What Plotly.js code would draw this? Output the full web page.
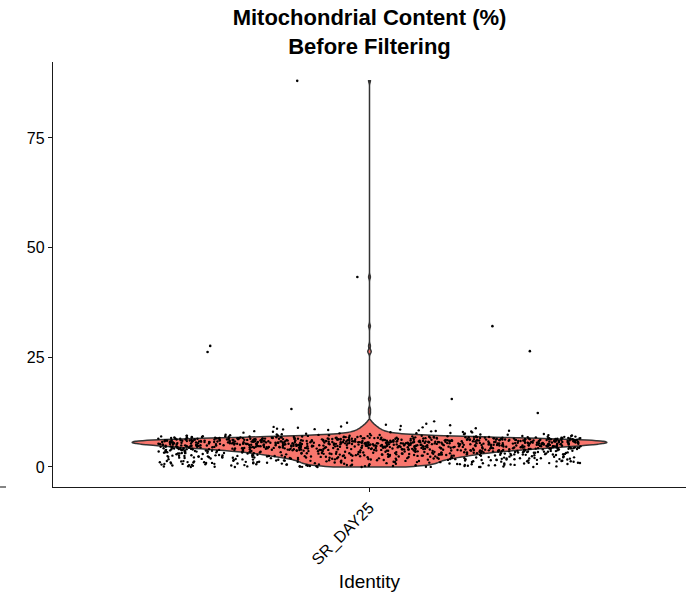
<!DOCTYPE html>
<html>
<head>
<meta charset="utf-8">
<script src="https://cdn.plot.ly/plotly-3.0.1.min.js"></script>
<style>html,body{margin:0;padding:0;background:#fff;}#chart{width:687px;height:594px;}</style>
</head>
<body>
<div id="chart"></div>
<script>
// Identity (single group)
var identities = ['SR_DAY25'];

// percent.mt of the cells in the main body
var bulkValues = [
0,0,0,0,0,0.01,0.01,0.02,0.03,0.05,0.07,0.08,
0.1,0.11,0.13,0.14,0.16,0.17,0.19,0.2,0.21,0.23,0.24,0.26,0.27,0.29,
0.3,0.32,0.33,0.35,0.36,0.38,0.39,0.4,0.42,0.43,0.45,0.46,0.48,0.49,
0.5,0.51,0.53,0.54,0.56,0.57,0.59,0.6,0.61,0.62,0.64,0.65,0.67,0.68,0.69,
0.7,0.71,0.72,0.74,0.75,0.77,0.78,0.79,0.8,0.81,0.82,0.84,0.85,0.87,0.88,0.89,
0.9,0.92,0.93,0.95,0.96,0.98,0.99,
1.0,1.01,1.02,1.04,1.05,1.07,1.08,1.09,1.1,1.11,1.12,1.14,1.15,1.17,1.18,1.19,
1.2,1.21,1.22,1.24,1.25,1.27,1.28,1.29,1.3,1.31,1.32,1.34,1.35,1.37,1.38,1.39,
1.4,1.41,1.42,1.44,1.45,1.47,1.48,1.49,1.5,1.51,1.52,1.54,1.55,1.57,1.58,1.59,
1.6,1.61,1.62,1.63,1.64,1.66,1.67,1.68,1.69,1.7,1.71,1.72,1.73,1.74,1.76,1.77,1.78,1.79,
1.8,1.81,1.82,1.83,1.84,1.86,1.87,1.88,1.89,1.9,1.91,1.92,1.93,1.94,1.96,1.97,1.98,1.99,
2.0,2.01,2.02,2.03,2.04,2.05,2.06,2.07,2.08,2.09,2.1,2.11,2.12,2.13,2.14,2.15,2.16,2.17,2.18,2.19,
2.2,2.21,2.22,2.23,2.24,2.25,2.26,2.27,2.28,2.29,
2.3,2.31,2.32,2.33,2.34,2.35,2.35,2.36,2.37,2.38,2.39,
2.4,2.41,2.42,2.43,2.44,2.45,2.46,2.46,2.47,2.48,2.49,
2.5,2.51,2.52,2.53,2.53,2.54,2.55,2.56,2.57,2.58,2.58,2.59,
2.6,2.61,2.62,2.63,2.63,2.64,2.65,2.66,2.67,2.68,2.68,2.69,
2.7,2.71,2.72,2.73,2.73,2.74,2.75,2.76,2.77,2.78,2.78,2.79,
2.8,2.81,2.82,2.83,2.83,2.84,2.85,2.86,2.87,2.88,2.88,2.89,
2.9,2.91,2.92,2.93,2.93,2.94,2.95,2.96,2.97,2.98,2.98,2.99,
3.0,3.01,3.02,3.03,3.03,3.04,3.05,3.06,3.07,3.08,3.08,3.09,
3.1,3.11,3.11,3.12,3.13,3.14,3.15,3.15,3.16,3.17,3.18,3.19,3.19,
3.2,3.2,3.21,3.22,3.23,3.23,3.24,3.25,3.26,3.26,3.27,3.28,3.29,3.29,
3.3,3.3,3.31,3.32,3.33,3.33,3.34,3.35,3.36,3.36,3.37,3.38,3.39,3.39,
3.4,3.4,3.41,3.42,3.42,3.43,3.44,3.45,3.45,3.46,3.47,3.47,3.48,3.49,3.49,
3.5,3.5,3.51,3.52,3.52,3.53,3.54,3.55,3.55,3.56,3.57,3.57,3.58,3.59,3.59,
3.6,3.6,3.61,3.62,3.62,3.63,3.64,3.64,3.65,3.66,3.66,3.67,3.68,3.68,3.69,3.69,
3.7,3.7,3.71,3.72,3.72,3.73,3.74,3.74,3.75,3.76,3.76,3.77,3.78,3.78,3.79,3.79,
3.8,3.8,3.81,3.81,3.82,3.83,3.83,3.84,3.85,3.85,3.86,3.87,3.87,3.88,3.88,3.89,3.89,
3.9,3.9,3.91,3.91,3.92,3.92,3.93,3.94,3.94,3.95,3.95,3.96,3.97,3.97,3.98,3.98,3.99,3.99,
4.0,4.0,4.01,4.01,4.02,4.02,4.03,4.04,4.04,4.05,4.05,4.06,4.07,4.07,4.08,4.08,4.09,4.09,
4.1,4.1,4.11,4.11,4.12,4.12,4.13,4.13,4.14,4.15,4.15,4.16,4.16,4.17,4.17,4.18,4.18,4.19,4.19,
4.2,4.2,4.21,4.21,4.22,4.22,4.23,4.23,4.24,4.24,4.25,4.25,4.26,4.26,4.27,4.27,4.28,4.28,4.29,4.29,
4.3,4.3,4.31,4.31,4.32,4.32,4.33,4.33,4.34,4.34,4.35,4.35,4.35,4.36,4.36,4.37,4.37,4.38,4.38,4.39,4.39,
4.4,4.4,4.41,4.41,4.42,4.42,4.43,4.43,4.44,4.44,4.45,4.45,4.45,4.46,4.46,4.47,4.47,4.48,4.48,4.48,4.49,4.49,
4.5,4.5,4.51,4.51,4.52,4.52,4.53,4.53,4.53,4.54,4.54,4.55,4.55,4.56,4.56,4.57,4.57,4.57,4.58,4.58,4.59,4.59,
4.6,4.6,4.61,4.61,4.62,4.62,4.62,4.63,4.63,4.64,4.64,4.65,4.65,4.65,4.66,4.66,4.67,4.67,4.68,4.68,4.68,4.69,4.69,
4.7,4.7,4.71,4.71,4.71,4.72,4.72,4.73,4.73,4.74,4.74,4.74,4.75,4.75,4.76,4.76,4.76,4.77,4.77,4.78,4.78,4.78,4.79,4.79,
4.8,4.8,4.81,4.81,4.81,4.82,4.82,4.83,4.83,4.84,4.84,4.84,4.85,4.85,4.86,4.86,4.86,4.87,4.87,4.88,4.88,4.88,4.89,4.89,
4.9,4.9,4.9,4.91,4.91,4.92,4.92,4.92,4.93,4.93,4.94,4.94,4.94,4.95,4.95,4.96,4.96,4.96,4.97,4.97,4.98,4.98,4.98,4.99,4.99,
5.0,5.0,5.0,5.01,5.01,5.02,5.02,5.02,5.03,5.03,5.04,5.04,5.04,5.05,5.05,5.05,5.06,5.06,5.07,5.07,5.07,5.08,5.08,5.09,5.09,5.09,
5.1,5.1,5.1,5.11,5.11,5.12,5.12,5.12,5.13,5.13,5.14,5.14,5.14,5.15,5.15,5.15,5.16,5.16,5.17,5.17,5.17,5.18,5.18,5.19,5.19,5.19,
5.2,5.2,5.21,5.21,5.21,5.22,5.22,5.22,5.23,5.23,5.23,5.24,5.24,5.25,5.25,5.25,5.26,5.26,5.26,5.27,5.27,5.28,5.28,5.28,5.29,5.29,5.29,
5.3,5.3,5.31,5.31,5.31,5.32,5.32,5.32,5.33,5.33,5.33,5.34,5.34,5.35,5.35,5.35,5.36,5.36,5.36,5.37,5.37,5.38,5.38,5.38,5.39,5.39,5.39,
5.4,5.4,5.4,5.41,5.41,5.41,5.42,5.42,5.43,5.43,5.43,5.44,5.44,5.44,5.45,5.45,5.45,5.46,5.46,5.47,5.47,5.47,5.48,5.48,5.48,5.49,5.49,5.49,
5.5,5.5,5.5,5.51,5.51,5.51,5.52,5.52,5.53,5.53,5.53,5.54,5.54,5.54,5.55,5.55,5.55,5.56,5.56,5.57,5.57,5.57,5.58,5.58,5.58,5.59,5.59,5.59,
5.6,5.6,5.6,5.61,5.61,5.61,5.62,5.62,5.63,5.63,5.63,5.64,5.64,5.64,5.65,5.65,5.65,5.66,5.66,5.67,5.67,5.67,5.68,5.68,5.68,5.69,5.69,5.69,
5.7,5.7,5.7,5.71,5.71,5.71,5.72,5.72,5.73,5.73,5.73,5.74,5.74,5.74,5.75,5.75,5.75,5.76,5.76,5.77,5.77,5.77,5.78,5.78,5.78,5.79,5.79,5.79,
5.8,5.8,5.8,5.81,5.81,5.81,5.82,5.82,5.83,5.83,5.83,5.84,5.84,5.84,5.85,5.85,5.85,5.86,5.86,5.87,5.87,5.87,5.88,5.88,5.88,5.89,5.89,5.89,
5.9,5.9,5.9,5.91,5.91,5.91,5.92,5.92,5.93,5.93,5.93,5.94,5.94,5.94,5.95,5.95,5.95,5.96,5.96,5.97,5.97,5.97,5.98,5.98,5.98,5.99,5.99,5.99,
6.0,6.0,6.0,6.01,6.01,6.01,6.02,6.02,6.03,6.03,6.03,6.04,6.04,6.04,6.05,6.05,6.05,6.06,6.06,6.07,6.07,6.07,6.08,6.08,6.08,6.09,6.09,6.09,
6.1,6.1,6.11,6.11,6.11,6.12,6.12,6.12,6.13,6.13,6.13,6.14,6.14,6.15,6.15,6.15,6.16,6.16,6.16,6.17,6.17,6.18,6.18,6.18,6.19,6.19,6.19,
6.2,6.2,6.2,6.21,6.21,6.22,6.22,6.22,6.23,6.23,6.24,6.24,6.24,6.25,6.25,6.25,6.26,6.26,6.27,6.27,6.27,6.28,6.28,6.29,6.29,6.29,
6.3,6.3,6.31,6.31,6.31,6.32,6.32,6.33,6.33,6.34,6.34,6.34,6.35,6.35,6.36,6.36,6.36,6.37,6.37,6.38,6.38,6.38,6.39,6.39,
6.4,6.4,6.41,6.41,6.42,6.42,6.43,6.43,6.43,6.44,6.44,6.45,6.45,6.46,6.46,6.47,6.47,6.47,6.48,6.48,6.49,6.49,
6.5,6.5,6.51,6.51,6.52,6.52,6.53,6.53,6.54,6.54,6.55,6.55,6.56,6.56,6.57,6.57,6.58,6.58,6.59,6.59,
6.6,6.6,6.61,6.61,6.62,6.63,6.63,6.64,6.64,6.65,6.66,6.66,6.67,6.67,6.68,6.68,6.69,6.69,
6.7,6.7,6.71,6.72,6.72,6.73,6.74,6.74,6.75,6.76,6.76,6.77,6.78,6.78,6.79,6.79,
6.8,6.81,6.81,6.82,6.83,6.84,6.84,6.85,6.86,6.87,6.87,6.88,6.89,
6.9,6.91,6.92,6.93,6.94,6.95,6.96,6.97,6.98,6.99,
7.0,7.01,7.03,7.04,7.06,7.07,7.09,7.1,7.12,7.13,7.15,7.17,7.18,
7.21,7.23,7.25,7.27,7.29,7.31,7.34,7.36,7.39,7.42,7.45,7.48,
7.51,7.55,7.58,7.62,7.67,7.71,7.76,7.83,7.88,7.92,7.97,
8.03,8.08,8.12,8.17,8.21,8.27,8.35,8.44,8.52,8.57,8.63,8.74,8.82,8.96,
9.03,9.14,9.22,9.35,9.51,9.63,9.84,10.1,10.4
];

// high percent.mt cells
var outlierValues = [12.3, 13.2, 15.5, 26.2, 26.4, 27.6, 32.1, 43.3, 88.0];
// their horizontal jitter inside the group, as drawn in the picture
var outlierJitter = [0.319, -0.148, 0.156, -0.307, 0.304, -0.302, 0.233, -0.023, -0.137];

var yTicks = [0, 25, 50, 75];

var allValues = bulkValues.concat(outlierValues);
var FONT = 'Liberation Sans, Arial, Helvetica, sans-serif';

var traces = [
  {
    type: 'violin',
    x0: 0,
    y: allValues,
    name: identities[0],
    orientation: 'v',
    points: false,
    spanmode: 'hard',
    bandwidth: 0.4,
    width: 0.9,
    scalemode: 'width',
    fillcolor: '#F8766D',
    line: {color: '#333333', width: 1.5},
    box: {visible: false},
    meanline: {visible: false},
    hoveron: 'violins',
    showlegend: false
  },
  {
    type: 'violin',
    x0: 0,
    y: bulkValues,
    name: identities[0],
    orientation: 'v',
    points: 'all',
    pointpos: 0,
    jitter: 0.89,
    spanmode: 'hard',
    width: 0.9,
    fillcolor: 'rgba(0,0,0,0)',
    line: {color: 'rgba(0,0,0,0)', width: 0},
    marker: {color: '#000000', size: 2.4},
    hoveron: 'points',
    showlegend: false
  },
  {
    type: 'scatter',
    mode: 'markers',
    x: outlierJitter,
    y: outlierValues,
    marker: {color: '#000000', size: 2.6},
    showlegend: false,
    hoverinfo: 'y'
  }
];

var layout = {
  width: 687,
  height: 594,
  margin: {l: 53, r: 1, t: 62, b: 107},
  paper_bgcolor: '#ffffff',
  plot_bgcolor: '#ffffff',
  violinmode: 'overlay',
  font: {family: FONT, color: '#000000'},
  title: {
    text: 'Mitochondrial Content (%)<br>Before Filtering',
    font: {family: FONT, size: 22, color: '#000000', weight: 'bold'},
    x: 0.5,
    xref: 'paper',
    xanchor: 'center',
    y: 0.958,
    yref: 'container',
    yanchor: 'top'
  },
  xaxis: {
    type: 'linear',
    range: [-0.6, 0.6],
    tickmode: 'array',
    tickvals: [0],
    ticktext: identities,
    tickangle: -45,
    ticks: 'outside',
    ticklen: 4,
    tickwidth: 1,
    tickcolor: '#1a1a1a',
    showline: true,
    linecolor: '#1a1a1a',
    linewidth: 1.2,
    showgrid: false,
    zeroline: false,
    tickfont: {family: FONT, size: 16, color: '#000000'},
    title: {text: 'Identity', font: {family: FONT, size: 19, color: '#000000'}}
  },
  yaxis: {
    type: 'linear',
    range: [-4.56, 92.3],
    tickmode: 'array',
    tickvals: yTicks,
    ticktext: yTicks.map(String),
    ticks: 'outside',
    ticklen: 4,
    tickwidth: 1,
    tickcolor: '#1a1a1a',
    showline: true,
    linecolor: '#1a1a1a',
    linewidth: 1.2,
    showgrid: false,
    zeroline: false,
    tickfont: {family: FONT, size: 16, color: '#000000'}
  },
  shapes: [
    {type: 'line', xref: 'paper', yref: 'paper', x0: -0.0837, x1: -0.0742, y0: 0, y1: 0,
     line: {color: '#333333', width: 1.2}}
  ]
};

Plotly.newPlot('chart', traces, layout, {staticPlot: true, displayModeBar: false});
</script>
</body>
</html>
